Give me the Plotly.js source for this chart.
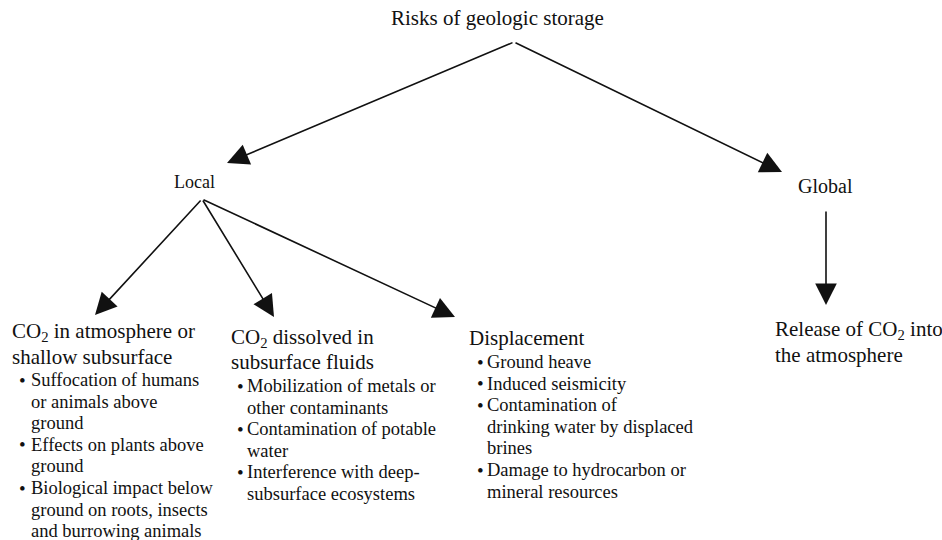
<!DOCTYPE html>
<html>
<head>
<meta charset="utf-8">
<script src="https://cdn.plot.ly/plotly-3.0.1.min.js"></script>
<style>html,body{margin:0;padding:0;background:#fff;}#chart{width:942px;height:540px;}</style>
</head>
<body>
<div id="chart"></div>
<script>
// ---- Diagram content (text) ----
const rootLabel = 'Risks of geologic storage';
const scopeLabels = ['Local', 'Global'];

const localHeadings = [
  ['CO<sub>2</sub> in atmosphere or', 'shallow subsurface'],
  ['CO<sub>2</sub> dissolved in', 'subsurface fluids'],
  ['Displacement']
];
const localBullets = [
  [['Suffocation of humans', 'or animals above', 'ground'],
   ['Effects on plants above', 'ground'],
   ['Biological impact below', 'ground on roots, insects', 'and burrowing animals']],
  [['Mobilization of metals or', 'other contaminants'],
   ['Contamination of potable', 'water'],
   ['Interference with deep-', 'subsurface ecosystems']],
  [['Ground heave'],
   ['Induced seismicity'],
   ['Contamination of', 'drinking water by displaced', 'brines'],
   ['Damage to hydrocarbon or', 'mineral resources']]
];
const globalHeading = ['Release of CO<sub>2</sub> into', 'the atmosphere'];

// ---- Layout geometry (pixel space: x 0..942, y 0..540 top-down) ----
const FONT = '"Liberation Serif", "Times New Roman", serif';
const INK = '#111';
const root = {x: 497, y: 18, apex: [514, 42]};
const scopePos = [{x: 194, y: 182, apex: [202, 199], size: 18},
                  {x: 825, y: 186, apex: [826, 210], size: 20}];
const scopeTips = [[227, 163], [782, 172]];
const localTips = [[95, 315], [274, 317], [455, 317]];
const globalTip = [826, 305];
const blocks = [
  {hx: 10, hy: 332, hstep: 25, by: 380, dot: 22, tx: 29},
  {hx: 229, hy: 338, hstep: 24, by: 386, dot: 240, tx: 245},
  {hx: 467, hy: 338, hstep: 24, by: 362, dot: 480, tx: 485}
];
const globalBlock = {hx: 773, hy: 330, hstep: 25};
const BSTEP = 21.6;

const ann = [];
function txt(x, y, t, size, anchor) {
  ann.push({x: x, y: y, xref: 'x', yref: 'y', text: t, showarrow: false,
    xanchor: anchor || 'left', yanchor: 'middle',
    font: {family: FONT, size: size, color: INK}});
}
function arrow(from, to) {
  ann.push({x: to[0], y: to[1], ax: from[0], ay: from[1], xref: 'x', yref: 'y',
    axref: 'x', ayref: 'y', text: '', showarrow: true, arrowhead: 2,
    arrowsize: 2.7, arrowwidth: 1.6, arrowcolor: INK, standoff: 0, startstandoff: 0});
}

txt(root.x, root.y, rootLabel, 21, 'center');
scopeLabels.forEach((s, i) => {
  txt(scopePos[i].x, scopePos[i].y, s, scopePos[i].size, 'center');
  arrow(root.apex, scopeTips[i]);
});
localTips.forEach(t => arrow(scopePos[0].apex, t));
arrow(scopePos[1].apex, globalTip);

localHeadings.forEach((h, i) => {
  const b = blocks[i];
  h.forEach((line, j) => txt(b.hx, b.hy + j * b.hstep, line, 21));
  let k = 0;
  localBullets[i].forEach(item => {
    item.forEach((line, j) => {
      const y = b.by + k * BSTEP;
      if (j === 0) txt(b.dot, y, '•', 19, 'center');
      txt(b.tx, y, line, 18.5);
      k++;
    });
  });
});
globalHeading.forEach((line, j) => txt(globalBlock.hx, globalBlock.hy + j * globalBlock.hstep, line, 21));

const layout = {
  width: 942, height: 540,
  margin: {l: 0, r: 0, t: 0, b: 0},
  paper_bgcolor: '#fff', plot_bgcolor: '#fff',
  xaxis: {range: [0, 942], visible: false, fixedrange: true},
  yaxis: {range: [540, 0], visible: false, fixedrange: true},
  showlegend: false,
  annotations: ann
};
Plotly.newPlot('chart', [{x: [], y: [], type: 'scatter', mode: 'markers'}], layout, {displayModeBar: false, staticPlot: true});
</script>
</body>
</html>
